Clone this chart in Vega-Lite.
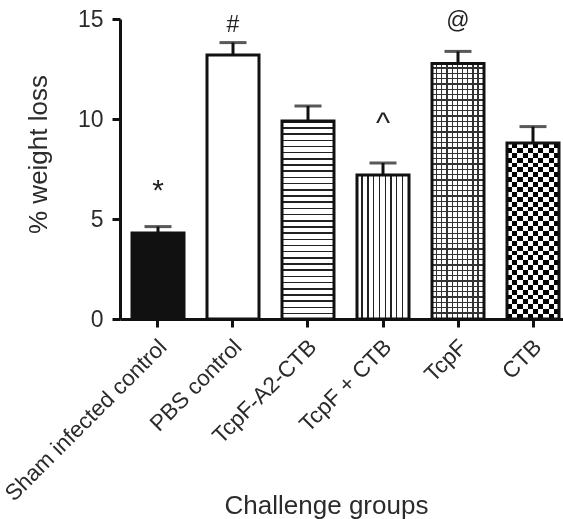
{
"$schema": "https://vega.github.io/schema/vega-lite/v6.json",
"width": 451,
"height": 300,
"autosize": {"type": "none"},
"padding": {"left": 120, "top": 19, "right": 0, "bottom": 200},
"background": "white",
"config": {
  "view": {"stroke": null},
  "font": "Liberation Sans",
  "axis": {
    "domainColor": "#111", "domainWidth": 3, "tickColor": "#111", "tickWidth": 3, "tickSize": 8,
    "labelFont": "Liberation Sans", "labelFontSize": 23, "labelColor": "#2b2b2b",
    "titleFont": "Liberation Sans", "titleFontSize": 26, "titleFontWeight": "normal", "titleColor": "#2b2b2b",
    "grid": false
  }
},
"data": {"values": [
  {"group": "Sham infected control", "value": 4.3, "upper": 4.62, "label": "*", "labelY": 5.95},
  {"group": "PBS control", "value": 13.2, "upper": 13.82, "label": "#", "labelY": 14.35},
  {"group": "TcpF-A2-CTB", "value": 9.9, "upper": 10.65, "label": "", "labelY": 0},
  {"group": "TcpF + CTB", "value": 7.2, "upper": 7.8, "label": "^", "labelY": 9.3},
  {"group": "TcpF", "value": 12.78, "upper": 13.38, "label": "@", "labelY": 14.55},
  {"group": "CTB", "value": 8.8, "upper": 9.62, "label": "", "labelY": 0}
]},
"encoding": {
  "x": {"field": "group", "type": "nominal", "sort": null,
    "scale": {"paddingInner": 0.3067, "paddingOuter": 0.16},
    "axis": {"title": "Challenge groups", "labelAngle": -45, "labelAlign": "right", "labelBaseline": "middle", "labelPadding": 16, "labelOffset": 5, "labelFontSize": 22.5, "labelLimit": 0,
      "titleX": 206, "titleY": 194, "titleBaseline": "alphabetic", "titleAlign": "center"}}
},
"layer": [
  {"mark": {"type": "rule", "strokeWidth": 3, "color": "#111"},
   "encoding": {"y": {"field": "value", "type": "quantitative", "title": "% weight loss", "scale": {"domain": [0, 15], "nice": false},
      "axis": {"values": [0, 5, 10, 15], "labelPadding": 9, "titleAngle": -90, "titleX": -74, "titleY": 135, "titleBaseline": "alphabetic", "titleAlign": "center"}},
     "y2": {"field": "upper"}}},
  {"mark": {"type": "tick", "thickness": 3, "size": 27, "color": "#111"},
   "encoding": {"y": {"field": "upper", "type": "quantitative", "title": "% weight loss"}}},
  {"mark": {"type": "bar", "strokeWidth": 0},
   "encoding": {"y": {"field": "value", "type": "quantitative", "title": "% weight loss"},
     "fill": {"condition": {"test": "datum.group === 'Sham infected control'", "value": "#111"}, "value": "#ffffff"}}},
  {"transform": [{"filter": "datum.group === 'TcpF-A2-CTB'"}],
   "mark": {"type": "bar", "strokeWidth": 0, "fill": {"gradient": "linear", "x1": 0, "y1": 0, "x2": 0, "y2": 1, "stops": [
{"offset":0,"color":"#222"},{"offset":0.0078,"color":"#222"},{"offset":0.0078,"color":"#fff"},{"offset":0.0313,"color":"#fff"},
{"offset":0.0313,"color":"#222"},{"offset":0.0391,"color":"#222"},{"offset":0.0391,"color":"#fff"},{"offset":0.0625,"color":"#fff"},
{"offset":0.0625,"color":"#222"},{"offset":0.0703,"color":"#222"},{"offset":0.0703,"color":"#fff"},{"offset":0.0938,"color":"#fff"},
{"offset":0.0938,"color":"#222"},{"offset":0.1016,"color":"#222"},{"offset":0.1016,"color":"#fff"},{"offset":0.125,"color":"#fff"},
{"offset":0.125,"color":"#222"},{"offset":0.1328,"color":"#222"},{"offset":0.1328,"color":"#fff"},{"offset":0.1563,"color":"#fff"},
{"offset":0.1563,"color":"#222"},{"offset":0.1641,"color":"#222"},{"offset":0.1641,"color":"#fff"},{"offset":0.1875,"color":"#fff"},
{"offset":0.1875,"color":"#222"},{"offset":0.1953,"color":"#222"},{"offset":0.1953,"color":"#fff"},{"offset":0.2188,"color":"#fff"},
{"offset":0.2188,"color":"#222"},{"offset":0.2266,"color":"#222"},{"offset":0.2266,"color":"#fff"},{"offset":0.25,"color":"#fff"},
{"offset":0.25,"color":"#222"},{"offset":0.2578,"color":"#222"},{"offset":0.2578,"color":"#fff"},{"offset":0.2813,"color":"#fff"},
{"offset":0.2813,"color":"#222"},{"offset":0.2891,"color":"#222"},{"offset":0.2891,"color":"#fff"},{"offset":0.3125,"color":"#fff"},
{"offset":0.3125,"color":"#222"},{"offset":0.3203,"color":"#222"},{"offset":0.3203,"color":"#fff"},{"offset":0.3438,"color":"#fff"},
{"offset":0.3438,"color":"#222"},{"offset":0.3516,"color":"#222"},{"offset":0.3516,"color":"#fff"},{"offset":0.375,"color":"#fff"},
{"offset":0.375,"color":"#222"},{"offset":0.3828,"color":"#222"},{"offset":0.3828,"color":"#fff"},{"offset":0.4063,"color":"#fff"},
{"offset":0.4063,"color":"#222"},{"offset":0.4141,"color":"#222"},{"offset":0.4141,"color":"#fff"},{"offset":0.4375,"color":"#fff"},
{"offset":0.4375,"color":"#222"},{"offset":0.4453,"color":"#222"},{"offset":0.4453,"color":"#fff"},{"offset":0.4688,"color":"#fff"},
{"offset":0.4688,"color":"#222"},{"offset":0.4766,"color":"#222"},{"offset":0.4766,"color":"#fff"},{"offset":0.5,"color":"#fff"},
{"offset":0.5,"color":"#222"},{"offset":0.5078,"color":"#222"},{"offset":0.5078,"color":"#fff"},{"offset":0.5313,"color":"#fff"},
{"offset":0.5313,"color":"#222"},{"offset":0.5391,"color":"#222"},{"offset":0.5391,"color":"#fff"},{"offset":0.5625,"color":"#fff"},
{"offset":0.5625,"color":"#222"},{"offset":0.5703,"color":"#222"},{"offset":0.5703,"color":"#fff"},{"offset":0.5938,"color":"#fff"},
{"offset":0.5938,"color":"#222"},{"offset":0.6016,"color":"#222"},{"offset":0.6016,"color":"#fff"},{"offset":0.625,"color":"#fff"},
{"offset":0.625,"color":"#222"},{"offset":0.6328,"color":"#222"},{"offset":0.6328,"color":"#fff"},{"offset":0.6563,"color":"#fff"},
{"offset":0.6563,"color":"#222"},{"offset":0.6641,"color":"#222"},{"offset":0.6641,"color":"#fff"},{"offset":0.6875,"color":"#fff"},
{"offset":0.6875,"color":"#222"},{"offset":0.6953,"color":"#222"},{"offset":0.6953,"color":"#fff"},{"offset":0.7188,"color":"#fff"},
{"offset":0.7188,"color":"#222"},{"offset":0.7266,"color":"#222"},{"offset":0.7266,"color":"#fff"},{"offset":0.75,"color":"#fff"},
{"offset":0.75,"color":"#222"},{"offset":0.7578,"color":"#222"},{"offset":0.7578,"color":"#fff"},{"offset":0.7813,"color":"#fff"},
{"offset":0.7813,"color":"#222"},{"offset":0.7891,"color":"#222"},{"offset":0.7891,"color":"#fff"},{"offset":0.8125,"color":"#fff"},
{"offset":0.8125,"color":"#222"},{"offset":0.8203,"color":"#222"},{"offset":0.8203,"color":"#fff"},{"offset":0.8438,"color":"#fff"},
{"offset":0.8438,"color":"#222"},{"offset":0.8516,"color":"#222"},{"offset":0.8516,"color":"#fff"},{"offset":0.875,"color":"#fff"},
{"offset":0.875,"color":"#222"},{"offset":0.8828,"color":"#222"},{"offset":0.8828,"color":"#fff"},{"offset":0.9063,"color":"#fff"},
{"offset":0.9063,"color":"#222"},{"offset":0.9141,"color":"#222"},{"offset":0.9141,"color":"#fff"},{"offset":0.9375,"color":"#fff"},
{"offset":0.9375,"color":"#222"},{"offset":0.9453,"color":"#222"},{"offset":0.9453,"color":"#fff"},{"offset":0.9688,"color":"#fff"},
{"offset":0.9688,"color":"#222"},{"offset":0.9766,"color":"#222"},{"offset":0.9766,"color":"#fff"},{"offset":1,"color":"#fff"}]}},
   "encoding": {"y": {"field": "value", "type": "quantitative", "title": "% weight loss"}}},
  {"transform": [{"filter": "datum.group === 'TcpF + CTB'"}],
   "mark": {"type": "bar", "strokeWidth": 0, "fill": {"gradient": "linear", "x1": 0, "y1": 0, "x2": 1, "y2": 0, "stops": [
{"offset":0,"color":"#fff"},{"offset":0.0861,"color":"#fff"},{"offset":0.0861,"color":"#222"},{"offset":0.1111,"color":"#222"},
{"offset":0.1111,"color":"#fff"},{"offset":0.1972,"color":"#fff"},{"offset":0.1972,"color":"#222"},{"offset":0.2222,"color":"#222"},
{"offset":0.2222,"color":"#fff"},{"offset":0.3083,"color":"#fff"},{"offset":0.3083,"color":"#222"},{"offset":0.3333,"color":"#222"},
{"offset":0.3333,"color":"#fff"},{"offset":0.4194,"color":"#fff"},{"offset":0.4194,"color":"#222"},{"offset":0.4444,"color":"#222"},
{"offset":0.4444,"color":"#fff"},{"offset":0.5306,"color":"#fff"},{"offset":0.5306,"color":"#222"},{"offset":0.5556,"color":"#222"},
{"offset":0.5556,"color":"#fff"},{"offset":0.6417,"color":"#fff"},{"offset":0.6417,"color":"#222"},{"offset":0.6667,"color":"#222"},
{"offset":0.6667,"color":"#fff"},{"offset":0.7528,"color":"#fff"},{"offset":0.7528,"color":"#222"},{"offset":0.7778,"color":"#222"},
{"offset":0.7778,"color":"#fff"},{"offset":0.8639,"color":"#fff"},{"offset":0.8639,"color":"#222"},{"offset":0.8889,"color":"#222"},
{"offset":0.8889,"color":"#fff"},{"offset":1,"color":"#fff"}]}},
   "encoding": {"y": {"field": "value", "type": "quantitative", "title": "% weight loss"}}},
  {"transform": [{"filter": "datum.group === 'TcpF'"}],
   "mark": {"type": "bar", "strokeWidth": 0, "fill": {"gradient": "linear", "x1": 0, "y1": 0, "x2": 1, "y2": 0, "stops": [
{"offset":0,"color":"#fff"},{"offset":0.075,"color":"#fff"},{"offset":0.075,"color":"#333"},{"offset":0.1,"color":"#333"},
{"offset":0.1,"color":"#fff"},{"offset":0.175,"color":"#fff"},{"offset":0.175,"color":"#333"},{"offset":0.2,"color":"#333"},
{"offset":0.2,"color":"#fff"},{"offset":0.275,"color":"#fff"},{"offset":0.275,"color":"#333"},{"offset":0.3,"color":"#333"},
{"offset":0.3,"color":"#fff"},{"offset":0.375,"color":"#fff"},{"offset":0.375,"color":"#333"},{"offset":0.4,"color":"#333"},
{"offset":0.4,"color":"#fff"},{"offset":0.475,"color":"#fff"},{"offset":0.475,"color":"#333"},{"offset":0.5,"color":"#333"},
{"offset":0.5,"color":"#fff"},{"offset":0.575,"color":"#fff"},{"offset":0.575,"color":"#333"},{"offset":0.6,"color":"#333"},
{"offset":0.6,"color":"#fff"},{"offset":0.675,"color":"#fff"},{"offset":0.675,"color":"#333"},{"offset":0.7,"color":"#333"},
{"offset":0.7,"color":"#fff"},{"offset":0.775,"color":"#fff"},{"offset":0.775,"color":"#333"},{"offset":0.8,"color":"#333"},
{"offset":0.8,"color":"#fff"},{"offset":0.875,"color":"#fff"},{"offset":0.875,"color":"#333"},{"offset":0.9,"color":"#333"},
{"offset":0.9,"color":"#fff"},{"offset":1,"color":"#fff"}]}},
   "encoding": {"y": {"field": "value", "type": "quantitative", "title": "% weight loss"}}},
  {"transform": [{"filter": "datum.group === 'TcpF'"}],
   "mark": {"type": "bar", "strokeWidth": 0, "fill": {"gradient": "linear", "x1": 0, "y1": 0, "x2": 0, "y2": 1, "stops": [
{"offset":0,"color":"rgba(0,0,0,0)"},{"offset":0.0157,"color":"rgba(0,0,0,0)"},{"offset":0.0157,"color":"#333"},{"offset":0.0208,"color":"#333"},
{"offset":0.0208,"color":"rgba(0,0,0,0)"},{"offset":0.0366,"color":"rgba(0,0,0,0)"},{"offset":0.0366,"color":"#333"},{"offset":0.0417,"color":"#333"},
{"offset":0.0417,"color":"rgba(0,0,0,0)"},{"offset":0.0574,"color":"rgba(0,0,0,0)"},{"offset":0.0574,"color":"#333"},{"offset":0.0625,"color":"#333"},
{"offset":0.0625,"color":"rgba(0,0,0,0)"},{"offset":0.0782,"color":"rgba(0,0,0,0)"},{"offset":0.0782,"color":"#333"},{"offset":0.0833,"color":"#333"},
{"offset":0.0833,"color":"rgba(0,0,0,0)"},{"offset":0.0991,"color":"rgba(0,0,0,0)"},{"offset":0.0991,"color":"#333"},{"offset":0.1042,"color":"#333"},
{"offset":0.1042,"color":"rgba(0,0,0,0)"},{"offset":0.1199,"color":"rgba(0,0,0,0)"},{"offset":0.1199,"color":"#333"},{"offset":0.125,"color":"#333"},
{"offset":0.125,"color":"rgba(0,0,0,0)"},{"offset":0.1407,"color":"rgba(0,0,0,0)"},{"offset":0.1407,"color":"#333"},{"offset":0.1458,"color":"#333"},
{"offset":0.1458,"color":"rgba(0,0,0,0)"},{"offset":0.1616,"color":"rgba(0,0,0,0)"},{"offset":0.1616,"color":"#333"},{"offset":0.1667,"color":"#333"},
{"offset":0.1667,"color":"rgba(0,0,0,0)"},{"offset":0.1824,"color":"rgba(0,0,0,0)"},{"offset":0.1824,"color":"#333"},{"offset":0.1875,"color":"#333"},
{"offset":0.1875,"color":"rgba(0,0,0,0)"},{"offset":0.2032,"color":"rgba(0,0,0,0)"},{"offset":0.2032,"color":"#333"},{"offset":0.2083,"color":"#333"},
{"offset":0.2083,"color":"rgba(0,0,0,0)"},{"offset":0.2241,"color":"rgba(0,0,0,0)"},{"offset":0.2241,"color":"#333"},{"offset":0.2292,"color":"#333"},
{"offset":0.2292,"color":"rgba(0,0,0,0)"},{"offset":0.2449,"color":"rgba(0,0,0,0)"},{"offset":0.2449,"color":"#333"},{"offset":0.25,"color":"#333"},
{"offset":0.25,"color":"rgba(0,0,0,0)"},{"offset":0.2657,"color":"rgba(0,0,0,0)"},{"offset":0.2657,"color":"#333"},{"offset":0.2708,"color":"#333"},
{"offset":0.2708,"color":"rgba(0,0,0,0)"},{"offset":0.2866,"color":"rgba(0,0,0,0)"},{"offset":0.2866,"color":"#333"},{"offset":0.2917,"color":"#333"},
{"offset":0.2917,"color":"rgba(0,0,0,0)"},{"offset":0.3074,"color":"rgba(0,0,0,0)"},{"offset":0.3074,"color":"#333"},{"offset":0.3125,"color":"#333"},
{"offset":0.3125,"color":"rgba(0,0,0,0)"},{"offset":0.3282,"color":"rgba(0,0,0,0)"},{"offset":0.3282,"color":"#333"},{"offset":0.3333,"color":"#333"},
{"offset":0.3333,"color":"rgba(0,0,0,0)"},{"offset":0.3491,"color":"rgba(0,0,0,0)"},{"offset":0.3491,"color":"#333"},{"offset":0.3542,"color":"#333"},
{"offset":0.3542,"color":"rgba(0,0,0,0)"},{"offset":0.3699,"color":"rgba(0,0,0,0)"},{"offset":0.3699,"color":"#333"},{"offset":0.375,"color":"#333"},
{"offset":0.375,"color":"rgba(0,0,0,0)"},{"offset":0.3907,"color":"rgba(0,0,0,0)"},{"offset":0.3907,"color":"#333"},{"offset":0.3958,"color":"#333"},
{"offset":0.3958,"color":"rgba(0,0,0,0)"},{"offset":0.4116,"color":"rgba(0,0,0,0)"},{"offset":0.4116,"color":"#333"},{"offset":0.4167,"color":"#333"},
{"offset":0.4167,"color":"rgba(0,0,0,0)"},{"offset":0.4324,"color":"rgba(0,0,0,0)"},{"offset":0.4324,"color":"#333"},{"offset":0.4375,"color":"#333"},
{"offset":0.4375,"color":"rgba(0,0,0,0)"},{"offset":0.4532,"color":"rgba(0,0,0,0)"},{"offset":0.4532,"color":"#333"},{"offset":0.4583,"color":"#333"},
{"offset":0.4583,"color":"rgba(0,0,0,0)"},{"offset":0.4741,"color":"rgba(0,0,0,0)"},{"offset":0.4741,"color":"#333"},{"offset":0.4792,"color":"#333"},
{"offset":0.4792,"color":"rgba(0,0,0,0)"},{"offset":0.4949,"color":"rgba(0,0,0,0)"},{"offset":0.4949,"color":"#333"},{"offset":0.5,"color":"#333"},
{"offset":0.5,"color":"rgba(0,0,0,0)"},{"offset":0.5157,"color":"rgba(0,0,0,0)"},{"offset":0.5157,"color":"#333"},{"offset":0.5208,"color":"#333"},
{"offset":0.5208,"color":"rgba(0,0,0,0)"},{"offset":0.5366,"color":"rgba(0,0,0,0)"},{"offset":0.5366,"color":"#333"},{"offset":0.5417,"color":"#333"},
{"offset":0.5417,"color":"rgba(0,0,0,0)"},{"offset":0.5574,"color":"rgba(0,0,0,0)"},{"offset":0.5574,"color":"#333"},{"offset":0.5625,"color":"#333"},
{"offset":0.5625,"color":"rgba(0,0,0,0)"},{"offset":0.5782,"color":"rgba(0,0,0,0)"},{"offset":0.5782,"color":"#333"},{"offset":0.5833,"color":"#333"},
{"offset":0.5833,"color":"rgba(0,0,0,0)"},{"offset":0.5991,"color":"rgba(0,0,0,0)"},{"offset":0.5991,"color":"#333"},{"offset":0.6042,"color":"#333"},
{"offset":0.6042,"color":"rgba(0,0,0,0)"},{"offset":0.6199,"color":"rgba(0,0,0,0)"},{"offset":0.6199,"color":"#333"},{"offset":0.625,"color":"#333"},
{"offset":0.625,"color":"rgba(0,0,0,0)"},{"offset":0.6407,"color":"rgba(0,0,0,0)"},{"offset":0.6407,"color":"#333"},{"offset":0.6458,"color":"#333"},
{"offset":0.6458,"color":"rgba(0,0,0,0)"},{"offset":0.6616,"color":"rgba(0,0,0,0)"},{"offset":0.6616,"color":"#333"},{"offset":0.6667,"color":"#333"},
{"offset":0.6667,"color":"rgba(0,0,0,0)"},{"offset":0.6824,"color":"rgba(0,0,0,0)"},{"offset":0.6824,"color":"#333"},{"offset":0.6875,"color":"#333"},
{"offset":0.6875,"color":"rgba(0,0,0,0)"},{"offset":0.7032,"color":"rgba(0,0,0,0)"},{"offset":0.7032,"color":"#333"},{"offset":0.7083,"color":"#333"},
{"offset":0.7083,"color":"rgba(0,0,0,0)"},{"offset":0.7241,"color":"rgba(0,0,0,0)"},{"offset":0.7241,"color":"#333"},{"offset":0.7292,"color":"#333"},
{"offset":0.7292,"color":"rgba(0,0,0,0)"},{"offset":0.7449,"color":"rgba(0,0,0,0)"},{"offset":0.7449,"color":"#333"},{"offset":0.75,"color":"#333"},
{"offset":0.75,"color":"rgba(0,0,0,0)"},{"offset":0.7657,"color":"rgba(0,0,0,0)"},{"offset":0.7657,"color":"#333"},{"offset":0.7708,"color":"#333"},
{"offset":0.7708,"color":"rgba(0,0,0,0)"},{"offset":0.7866,"color":"rgba(0,0,0,0)"},{"offset":0.7866,"color":"#333"},{"offset":0.7917,"color":"#333"},
{"offset":0.7917,"color":"rgba(0,0,0,0)"},{"offset":0.8074,"color":"rgba(0,0,0,0)"},{"offset":0.8074,"color":"#333"},{"offset":0.8125,"color":"#333"},
{"offset":0.8125,"color":"rgba(0,0,0,0)"},{"offset":0.8282,"color":"rgba(0,0,0,0)"},{"offset":0.8282,"color":"#333"},{"offset":0.8333,"color":"#333"},
{"offset":0.8333,"color":"rgba(0,0,0,0)"},{"offset":0.8491,"color":"rgba(0,0,0,0)"},{"offset":0.8491,"color":"#333"},{"offset":0.8542,"color":"#333"},
{"offset":0.8542,"color":"rgba(0,0,0,0)"},{"offset":0.8699,"color":"rgba(0,0,0,0)"},{"offset":0.8699,"color":"#333"},{"offset":0.875,"color":"#333"},
{"offset":0.875,"color":"rgba(0,0,0,0)"},{"offset":0.8907,"color":"rgba(0,0,0,0)"},{"offset":0.8907,"color":"#333"},{"offset":0.8958,"color":"#333"},
{"offset":0.8958,"color":"rgba(0,0,0,0)"},{"offset":0.9116,"color":"rgba(0,0,0,0)"},{"offset":0.9116,"color":"#333"},{"offset":0.9167,"color":"#333"},
{"offset":0.9167,"color":"rgba(0,0,0,0)"},{"offset":0.9324,"color":"rgba(0,0,0,0)"},{"offset":0.9324,"color":"#333"},{"offset":0.9375,"color":"#333"},
{"offset":0.9375,"color":"rgba(0,0,0,0)"},{"offset":0.9532,"color":"rgba(0,0,0,0)"},{"offset":0.9532,"color":"#333"},{"offset":0.9583,"color":"#333"},
{"offset":0.9583,"color":"rgba(0,0,0,0)"},{"offset":0.9741,"color":"rgba(0,0,0,0)"},{"offset":0.9741,"color":"#333"},{"offset":0.9792,"color":"#333"},
{"offset":0.9792,"color":"rgba(0,0,0,0)"},{"offset":1,"color":"rgba(0,0,0,0)"}]}},
   "encoding": {"y": {"field": "value", "type": "quantitative", "title": "% weight loss"}}},
  {"transform": [{"filter": "datum.group === 'CTB'"}],
   "mark": {"type": "bar", "strokeWidth": 0, "fill": {"gradient": "linear", "x1": 0, "y1": 0, "x2": 1, "y2": 0, "stops": [
{"offset":0,"color":"#fff"},{"offset":0.1,"color":"#fff"},{"offset":0.1,"color":"#000"},{"offset":0.2,"color":"#000"},
{"offset":0.2,"color":"#fff"},{"offset":0.3,"color":"#fff"},{"offset":0.3,"color":"#000"},{"offset":0.4,"color":"#000"},
{"offset":0.4,"color":"#fff"},{"offset":0.5,"color":"#fff"},{"offset":0.5,"color":"#000"},{"offset":0.6,"color":"#000"},
{"offset":0.6,"color":"#fff"},{"offset":0.7,"color":"#fff"},{"offset":0.7,"color":"#000"},{"offset":0.8,"color":"#000"},
{"offset":0.8,"color":"#fff"},{"offset":0.9,"color":"#fff"},{"offset":0.9,"color":"#000"},{"offset":1,"color":"#000"}]}},
   "encoding": {"y": {"field": "value", "type": "quantitative", "title": "% weight loss"}}},
  {"transform": [{"filter": "datum.group === 'CTB'"}],
   "mark": {"type": "bar", "strokeWidth": 0, "blend": "difference", "fill": {"gradient": "linear", "x1": 0, "y1": 0, "x2": 0, "y2": 1, "stops": [
{"offset":0,"color":"#000"},{"offset":0.0278,"color":"#000"},{"offset":0.0278,"color":"#fff"},{"offset":0.0556,"color":"#fff"},
{"offset":0.0556,"color":"#000"},{"offset":0.0833,"color":"#000"},{"offset":0.0833,"color":"#fff"},{"offset":0.1111,"color":"#fff"},
{"offset":0.1111,"color":"#000"},{"offset":0.1389,"color":"#000"},{"offset":0.1389,"color":"#fff"},{"offset":0.1667,"color":"#fff"},
{"offset":0.1667,"color":"#000"},{"offset":0.1944,"color":"#000"},{"offset":0.1944,"color":"#fff"},{"offset":0.2222,"color":"#fff"},
{"offset":0.2222,"color":"#000"},{"offset":0.25,"color":"#000"},{"offset":0.25,"color":"#fff"},{"offset":0.2778,"color":"#fff"},
{"offset":0.2778,"color":"#000"},{"offset":0.3056,"color":"#000"},{"offset":0.3056,"color":"#fff"},{"offset":0.3333,"color":"#fff"},
{"offset":0.3333,"color":"#000"},{"offset":0.3611,"color":"#000"},{"offset":0.3611,"color":"#fff"},{"offset":0.3889,"color":"#fff"},
{"offset":0.3889,"color":"#000"},{"offset":0.4167,"color":"#000"},{"offset":0.4167,"color":"#fff"},{"offset":0.4444,"color":"#fff"},
{"offset":0.4444,"color":"#000"},{"offset":0.4722,"color":"#000"},{"offset":0.4722,"color":"#fff"},{"offset":0.5,"color":"#fff"},
{"offset":0.5,"color":"#000"},{"offset":0.5278,"color":"#000"},{"offset":0.5278,"color":"#fff"},{"offset":0.5556,"color":"#fff"},
{"offset":0.5556,"color":"#000"},{"offset":0.5833,"color":"#000"},{"offset":0.5833,"color":"#fff"},{"offset":0.6111,"color":"#fff"},
{"offset":0.6111,"color":"#000"},{"offset":0.6389,"color":"#000"},{"offset":0.6389,"color":"#fff"},{"offset":0.6667,"color":"#fff"},
{"offset":0.6667,"color":"#000"},{"offset":0.6944,"color":"#000"},{"offset":0.6944,"color":"#fff"},{"offset":0.7222,"color":"#fff"},
{"offset":0.7222,"color":"#000"},{"offset":0.75,"color":"#000"},{"offset":0.75,"color":"#fff"},{"offset":0.7778,"color":"#fff"},
{"offset":0.7778,"color":"#000"},{"offset":0.8056,"color":"#000"},{"offset":0.8056,"color":"#fff"},{"offset":0.8333,"color":"#fff"},
{"offset":0.8333,"color":"#000"},{"offset":0.8611,"color":"#000"},{"offset":0.8611,"color":"#fff"},{"offset":0.8889,"color":"#fff"},
{"offset":0.8889,"color":"#000"},{"offset":0.9167,"color":"#000"},{"offset":0.9167,"color":"#fff"},{"offset":0.9444,"color":"#fff"},
{"offset":0.9444,"color":"#000"},{"offset":0.9722,"color":"#000"},{"offset":0.9722,"color":"#fff"},{"offset":1,"color":"#fff"}]}},
   "encoding": {"y": {"field": "value", "type": "quantitative", "title": "% weight loss"}}},
  {"mark": {"type": "bar", "fill": "#fff", "fillOpacity": 0, "stroke": "#111", "strokeWidth": 3},
   "encoding": {"y": {"field": "value", "type": "quantitative", "title": "% weight loss"}}},
  {"transform": [{"filter": "datum.label !== ''"}],
   "mark": {"type": "text", "baseline": "alphabetic", "align": "center", "color": "#222", "font": "Liberation Sans"},
   "encoding": {"y": {"field": "labelY", "type": "quantitative", "title": "% weight loss"}, "text": {"field": "label"},
     "size": {"condition": {"test": "datum.label === '*' || datum.label === '^'", "value": 30}, "value": 23}}}
]
}
